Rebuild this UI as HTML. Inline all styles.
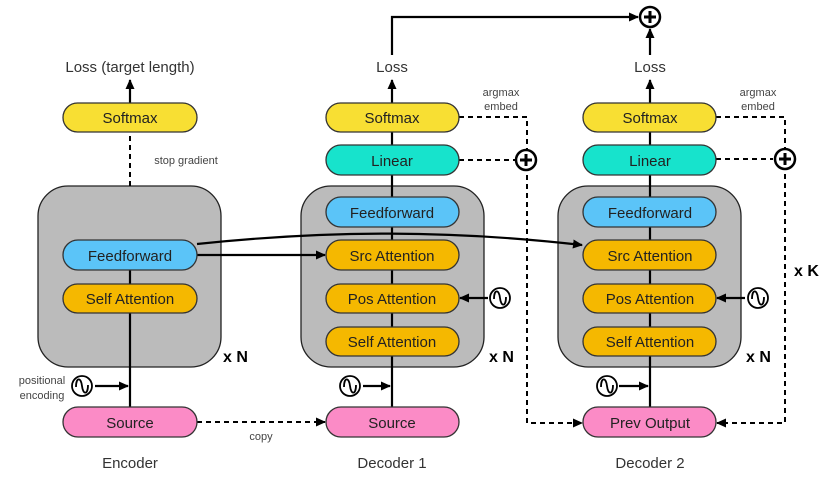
<!DOCTYPE html>
<html><head><meta charset="utf-8"><style>
html,body{margin:0;padding:0;background:#fff;}
svg{display:block;font-family:"Liberation Sans",sans-serif;}
</style></head><body>
<svg width="831" height="487" viewBox="0 0 831 487" xmlns="http://www.w3.org/2000/svg">
<defs>
<marker id="ah" markerWidth="10" markerHeight="10" refX="9" refY="5" orient="auto" markerUnits="userSpaceOnUse"><path d="M0,0.5 L10,5 L0,9.5 z" fill="#000"/></marker>
<g id="sine"><circle r="10" fill="#fff" stroke="#000" stroke-width="1.8"/><path d="M-6,1 C-6,-9 -1,-9 0,0 C1,9 6,9 6,-1" fill="none" stroke="#000" stroke-width="1.8"/></g>
<g id="plus"><circle r="10" fill="#fff" stroke="#000" stroke-width="2.5"/><path d="M-6,0 H6 M0,-6 V6" stroke="#000" stroke-width="3"/></g>
</defs>
<g stroke="#222" stroke-width="1.3">
<rect x="38" y="186" width="183" height="181" rx="30" fill="#bbb"/>
<rect x="301" y="186" width="183" height="181" rx="30" fill="#bbb"/>
<rect x="558" y="186" width="183" height="181" rx="30" fill="#bbb"/>
</g>
<g stroke="#000" stroke-width="2.2" fill="none">
<line x1="130" y1="407" x2="130" y2="270"/>
<line x1="392" y1="407" x2="392" y2="175"/>
<line x1="392" y1="145" x2="392" y2="132"/>
<line x1="650" y1="407" x2="650" y2="175"/>
<line x1="650" y1="145" x2="650" y2="132"/>
<line x1="392" y1="103" x2="392" y2="80" marker-end="url(#ah)"/>
<line x1="650" y1="103" x2="650" y2="80" marker-end="url(#ah)"/>
<line x1="130" y1="103" x2="130" y2="80" marker-end="url(#ah)"/>
<line x1="650" y1="55" x2="650" y2="29" marker-end="url(#ah)"/>
<path d="M392,55 V17 H638" marker-end="url(#ah)"/>
<line x1="197" y1="255" x2="325" y2="255" marker-end="url(#ah)"/>
<path d="M197,244 C330,230 450,230 582,245" marker-end="url(#ah)"/>
<line x1="95" y1="386" x2="128" y2="386" marker-end="url(#ah)"/>
<line x1="363" y1="386" x2="390" y2="386" marker-end="url(#ah)"/>
<line x1="619" y1="386" x2="648" y2="386" marker-end="url(#ah)"/>
<line x1="488" y1="298" x2="460" y2="298" marker-end="url(#ah)"/>
<line x1="745" y1="298" x2="717" y2="298" marker-end="url(#ah)"/>
</g>
<g stroke="#000" stroke-width="2" fill="none" stroke-dasharray="5,4">
<line x1="130" y1="186" x2="130" y2="132"/>
<line x1="197" y1="422" x2="325" y2="422" marker-end="url(#ah)"/>
<path d="M459,117 H527 V423 H582" marker-end="url(#ah)"/>
<line x1="459" y1="160" x2="515" y2="160"/>
<path d="M716,117 H785 V423 H717" marker-end="url(#ah)"/>
<line x1="716" y1="159" x2="773" y2="159"/>
</g>
<use href="#plus" x="650" y="17"/>
<use href="#plus" x="526" y="160"/>
<use href="#plus" x="785" y="159"/>
<use href="#sine" x="82" y="386"/>
<use href="#sine" x="350" y="386"/>
<use href="#sine" x="607" y="386"/>
<use href="#sine" x="500" y="298"/>
<use href="#sine" x="758" y="298"/>
<g stroke="#333" stroke-width="1.3">
<rect x="63" y="103" width="134" height="29" rx="14.5" fill="#f8df33"/>
<rect x="63" y="240" width="134" height="30" rx="15" fill="#5bc4f8"/>
<rect x="63" y="284" width="134" height="29" rx="14.5" fill="#f5b800"/>
<rect x="63" y="407" width="134" height="30" rx="15" fill="#fb8bc6"/>
<rect x="326" y="103" width="133" height="29" rx="14.5" fill="#f8df33"/>
<rect x="326" y="145" width="133" height="30" rx="15" fill="#17e3cc"/>
<rect x="326" y="197" width="133" height="30" rx="15" fill="#5bc4f8"/>
<rect x="326" y="240" width="133" height="30" rx="15" fill="#f5b800"/>
<rect x="326" y="284" width="133" height="29" rx="14.5" fill="#f5b800"/>
<rect x="326" y="327" width="133" height="29" rx="14.5" fill="#f5b800"/>
<rect x="326" y="407" width="133" height="30" rx="15" fill="#fb8bc6"/>
<rect x="583" y="103" width="133" height="29" rx="14.5" fill="#f8df33"/>
<rect x="583" y="145" width="133" height="30" rx="15" fill="#17e3cc"/>
<rect x="583" y="197" width="133" height="30" rx="15" fill="#5bc4f8"/>
<rect x="583" y="240" width="133" height="30" rx="15" fill="#f5b800"/>
<rect x="583" y="284" width="133" height="29" rx="14.5" fill="#f5b800"/>
<rect x="583" y="327" width="133" height="29" rx="14.5" fill="#f5b800"/>
<rect x="583" y="407" width="133" height="30" rx="15" fill="#fb8bc6"/>
</g>
<g font-size="15" fill="#222" text-anchor="middle">
<text x="130" y="123">Softmax</text>
<text x="130" y="261">Feedforward</text>
<text x="130" y="304">Self Attention</text>
<text x="130" y="428">Source</text>
<text x="392" y="123">Softmax</text>
<text x="392" y="166">Linear</text>
<text x="392" y="218">Feedforward</text>
<text x="392" y="261">Src Attention</text>
<text x="392" y="304">Pos Attention</text>
<text x="392" y="347">Self Attention</text>
<text x="392" y="428">Source</text>
<text x="650" y="123">Softmax</text>
<text x="650" y="166">Linear</text>
<text x="650" y="218">Feedforward</text>
<text x="650" y="261">Src Attention</text>
<text x="650" y="304">Pos Attention</text>
<text x="650" y="347">Self Attention</text>
<text x="650" y="428">Prev Output</text>
<text x="130" y="72" fill="#333">Loss (target length)</text>
<text x="392" y="72" fill="#333">Loss</text>
<text x="650" y="72" fill="#333">Loss</text>
<text x="130" y="468" fill="#333">Encoder</text>
<text x="392" y="468" fill="#333">Decoder 1</text>
<text x="650" y="468" fill="#333">Decoder 2</text>
</g>
<g font-size="11" fill="#444" text-anchor="middle">
<text x="186" y="164">stop gradient</text>
<text x="261" y="440">copy</text>
<text x="501" y="96">argmax</text>
<text x="501" y="110">embed</text>
<text x="758" y="96">argmax</text>
<text x="758" y="110">embed</text>
<text x="42" y="384">positional</text>
<text x="42" y="399">encoding</text>
</g>
<g font-size="16" font-weight="bold" fill="#000">
<text x="223" y="362">x N</text>
<text x="489" y="362">x N</text>
<text x="746" y="362">x N</text>
<text x="794" y="276">x K</text>
</g>
</svg>
</body></html>
